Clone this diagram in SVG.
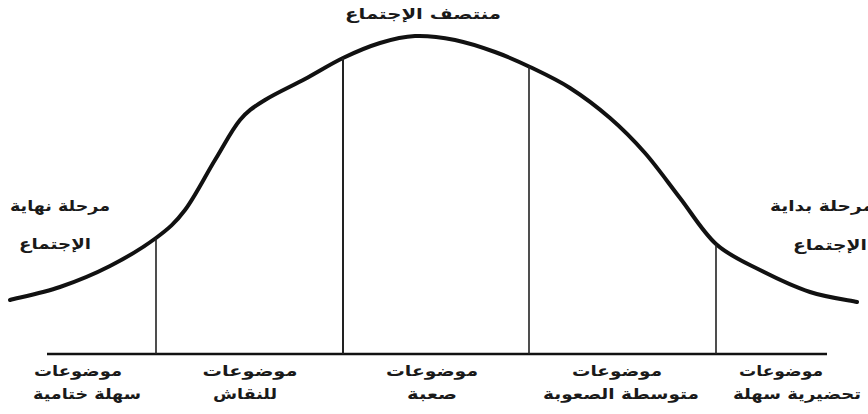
<svg xmlns="http://www.w3.org/2000/svg" width="868" height="414" viewBox="0 0 868 414">
<style>
.t{font-family:"DejaVu Sans","Liberation Sans",sans-serif;font-size:15px;font-weight:bold;fill:#1a1a1a;text-anchor:middle;direction:rtl}
.curve{fill:none;stroke:#111;stroke-width:4;stroke-linecap:round;stroke-linejoin:round}
.v{stroke:#222;stroke-width:1.6}
.base{stroke:#111;stroke-width:2.5}
</style>
<rect width="868" height="414" fill="#fff"/>
<g id="connectors">
<path id="curve" class="curve" d="M10,300 C18.3,297.8 43.3,292.7 60,287 C76.7,281.3 94,274.2 110,266 C126,257.8 143.5,247.3 156,238 C168.5,228.7 175.2,223 185,210 C194.8,197 205.8,175 215,160 C224.2,145 231.7,130 240,120 C248.3,110 254.2,106.8 265,100 C275.8,93.2 292,86 305,79 C318,72 330.5,64 343,58 C355.5,52 368,46.7 380,43 C392,39.3 402.5,36.5 415,36 C427.5,35.5 441.7,37.3 455,40 C468.3,42.7 482.5,47.5 495,52 C507.5,56.5 517.5,61 530,67 C542.5,73 556.7,79.5 570,88 C583.3,96.5 597.5,107.2 610,118 C622.5,128.8 633.3,139.7 645,153 C656.7,166.3 668.2,182.8 680,198 C691.8,213.2 702.7,232 716,244 C729.3,256 744.3,262 760,270 C775.7,278 793.8,286.7 810,292 C826.2,297.3 849.2,300.3 857,302"/>
<line class="base" x1="47" y1="354" x2="827" y2="354"/>
<line class="v" x1="156" y1="238" x2="156" y2="354"/>
<line class="v" x1="343" y1="58" x2="343" y2="354" style="stroke-width:2"/>
<line class="v" x1="529" y1="66" x2="529" y2="354"/>
<line class="v" x1="716" y1="244" x2="716" y2="354"/>
</g>
<g id="top-label"><text class="t" x="423" y="19" textLength="156" lengthAdjust="spacingAndGlyphs">منتصف الإجتماع</text></g>
<g id="left-label"><text class="t" x="60" y="211" textLength="100" lengthAdjust="spacingAndGlyphs">مرحلة نهاية</text><text class="t" x="55" y="249" textLength="72" lengthAdjust="spacingAndGlyphs">الإجتماع</text></g>
<g id="right-label"><text class="t" x="822" y="211" textLength="104" lengthAdjust="spacingAndGlyphs">مرحلة بداية</text><text class="t" x="830" y="250" textLength="74" lengthAdjust="spacingAndGlyphs">الإجتماع</text></g>
<g id="label1"><text class="t" x="78" y="376" textLength="88" lengthAdjust="spacingAndGlyphs">موضوعات</text><text class="t" x="87" y="399" textLength="108" lengthAdjust="spacingAndGlyphs">سهلة ختامية</text></g>
<g id="label2"><text class="t" x="250" y="376" textLength="95" lengthAdjust="spacingAndGlyphs">موضوعات</text><text class="t" x="245" y="399" textLength="64" lengthAdjust="spacingAndGlyphs">للنقاش</text></g>
<g id="label3"><text class="t" x="432" y="376" textLength="92" lengthAdjust="spacingAndGlyphs">موضوعات</text><text class="t" x="432" y="399" textLength="50" lengthAdjust="spacingAndGlyphs">صعبة</text></g>
<g id="label4"><text class="t" x="617" y="376" textLength="90" lengthAdjust="spacingAndGlyphs">موضوعات</text><text class="t" x="621" y="399" textLength="156" lengthAdjust="spacingAndGlyphs">متوسطة الصعوبة</text></g>
<g id="label5"><text class="t" x="781" y="376" textLength="84" lengthAdjust="spacingAndGlyphs">موضوعات</text><text class="t" x="797" y="399" textLength="128" lengthAdjust="spacingAndGlyphs">تحضيرية سهلة</text></g>
</svg>
